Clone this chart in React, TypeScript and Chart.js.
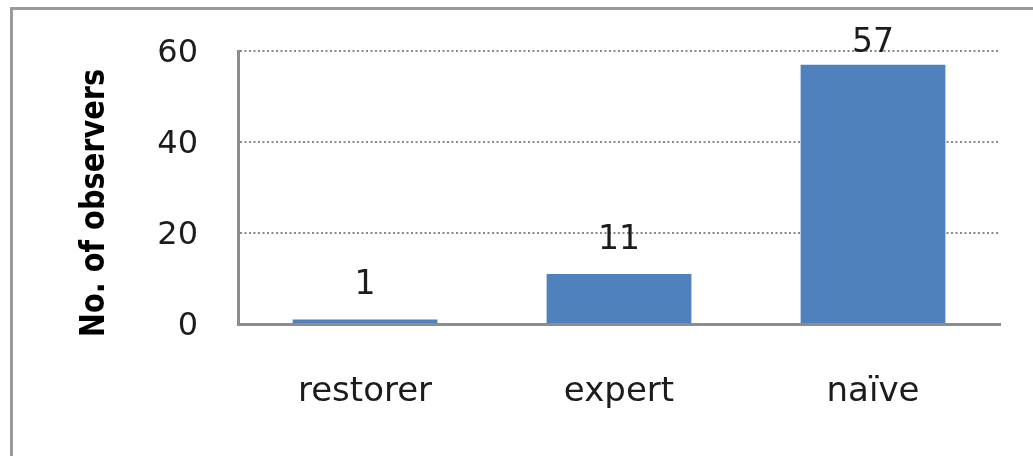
import React, { useEffect, useRef } from "react";
import { Chart, registerables } from "chart.js";

Chart.register(...registerables);

const categories = ["restorer", "expert", "naïve"];
const observers = [1, 11, 57];
const yTicks = [0, 20, 40, 60];
const yTitle = "No. of observers";

const BAR_COLOR = "#4F81BD";
const TEXT_COLOR = "#1c1c1c";

const decorPlugin = {
  id: "decor",
  beforeDraw(chart: any) {
    const ctx = chart.ctx;
    ctx.save();
    ctx.strokeStyle = "#9a9a9a";
    ctx.lineWidth = 3;
    ctx.beginPath();
    ctx.moveTo(11.5, 470);
    ctx.lineTo(11.5, 8.5);
    ctx.lineTo(1040, 8.5);
    ctx.stroke();
    ctx.restore();
  },
  afterDraw(chart: any) {
    const ctx = chart.ctx;
    const area = chart.chartArea;
    ctx.save();
    ctx.translate(95, 203);
    ctx.rotate(-Math.PI / 2);
    ctx.scale(0.93, 1.08);
    ctx.font = "bold 31px 'DejaVu Sans'";
    ctx.fillStyle = "#000";
    ctx.textAlign = "center";
    ctx.textBaseline = "middle";
    ctx.fillText(yTitle, 0, 0);
    ctx.restore();

    const meta = chart.getDatasetMeta(0);
    ctx.save();
    ctx.font = "33px 'DejaVu Sans'";
    ctx.fillStyle = TEXT_COLOR;
    ctx.textAlign = "center";
    ctx.textBaseline = "alphabetic";
    meta.data.forEach((bar: any, i: number) => {
      const v = chart.data.datasets[0].data[i];
      const y = Math.max(bar.y - 25, area.top + 1);
      ctx.fillText(String(v), bar.x, y);
    });
    ctx.restore();
  },
};

export default function App() {
  const ref = useRef<HTMLCanvasElement | null>(null);

  useEffect(() => {
    if (!ref.current) return;
    const chart = new Chart(ref.current, {
      type: "bar",
      data: {
        labels: categories,
        datasets: [
          {
            data: observers,
            backgroundColor: BAR_COLOR,
            borderWidth: 0,
            barPercentage: 0.57,
            categoryPercentage: 1,
          },
        ],
      },
      options: {
        animation: false,
        responsive: false,
        devicePixelRatio: 1,
        layout: { padding: { left: 0, top: 51, right: 33, bottom: 0 } },
        plugins: {
          legend: { display: false },
          tooltip: { enabled: false },
          title: { display: false },
        },
        scales: {
          x: {
            grid: { display: false, drawTicks: false },
            border: { display: true, color: "#8c8c8c", width: 3 },
            ticks: {
              padding: 48,
              color: TEXT_COLOR,
              font: { family: "'DejaVu Sans'", size: 34 },
              maxRotation: 0,
            },
            afterFit(scale: any) {
              scale.height = 132;
              scale.paddingLeft = 0;
              scale.paddingRight = 0;
            },
          },
          y: {
            min: 0,
            max: 60,
            afterBuildTicks(scale: any) {
              scale.ticks = yTicks.map((v) => ({ value: v }));
            },
            grid: {
              drawTicks: false,
              color: (c: any) => (c.tick && c.tick.value === 0 ? "rgba(0,0,0,0)" : "#8a8a8a"),
              lineWidth: 2,
            },
            border: { display: true, color: "#8c8c8c", width: 3, dash: [2, 2.5] },
            ticks: {
              padding: 40,
              labelOffset: 3,
              color: TEXT_COLOR,
              font: { family: "'DejaVu Sans'", size: 32 },
            },
            afterFit(scale: any) {
              scale.width = 238;
              scale.paddingTop = 0;
              scale.paddingBottom = 0;
            },
          },
        },
      },
      plugins: [decorPlugin],
    } as any);
    return () => chart.destroy();
  }, []);

  return (
    <div style={{ position: "absolute", left: 0, top: 0, width: 1033, height: 456, background: "#fff" }}>
      <canvas ref={ref} width={1033} height={456} style={{ display: "block" }} />
    </div>
  );
}
